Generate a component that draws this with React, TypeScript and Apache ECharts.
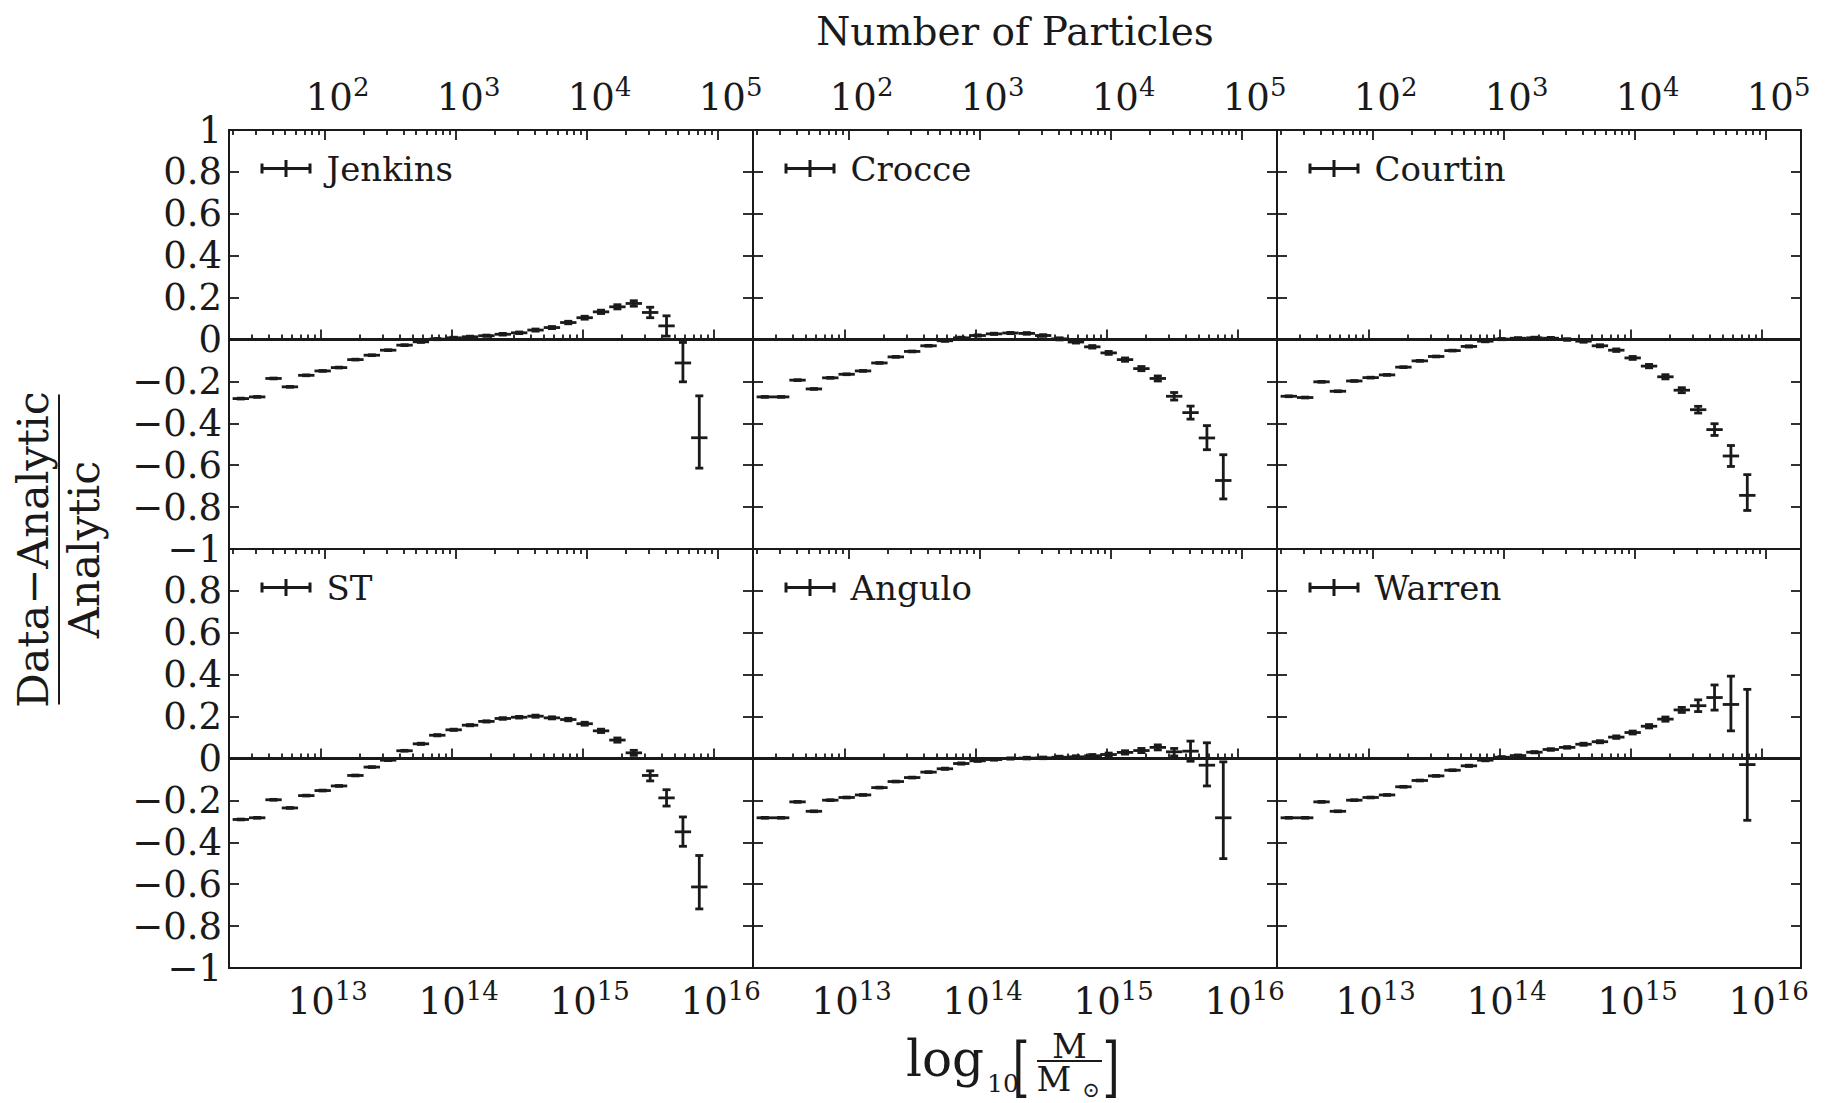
import React, { useEffect, useRef } from "react";
import * as echarts from "echarts";

const FONT = "DejaVu Serif";
const INK = "#1a1a1a";

// ---------- data ----------
const modelNames = ["Jenkins", "Crocce", "Courtin", "ST", "Angulo", "Warren"];

// log10(M) bin centres, bin half width in dex
const binCenters = [
  12.39, 12.515, 12.64, 12.765, 12.89, 13.015, 13.14, 13.265, 13.39, 13.515,
  13.64, 13.765, 13.89, 14.015, 14.14, 14.265, 14.39, 14.515, 14.64, 14.765,
  14.89, 15.015, 15.14, 15.265, 15.39, 15.515, 15.64, 15.765, 15.89,
];
const binHalfWidth = 0.0625;

const jenkinsValues = [
  -0.282, -0.274, -0.186, -0.226, -0.171, -0.15, -0.134, -0.096, -0.075, -0.051,
  -0.027, -0.011, 0.002, 0.008, 0.013, 0.018, 0.025, 0.032, 0.045, 0.057,
  0.081, 0.104, 0.132, 0.156, 0.172, 0.129, 0.065, -0.112, -0.469,
];
const jenkinsErrUp = [
  0.002, 0.002, 0.002, 0.002, 0.002, 0.002, 0.002, 0.002, 0.002, 0.002,
  0.002, 0.003, 0.003, 0.003, 0.003, 0.003, 0.004, 0.004, 0.005, 0.005,
  0.006, 0.007, 0.008, 0.01, 0.013, 0.025, 0.048, 0.098, 0.2,
];
const jenkinsErrDown = [
  0.002, 0.002, 0.002, 0.002, 0.002, 0.002, 0.002, 0.002, 0.002, 0.002,
  0.002, 0.003, 0.003, 0.003, 0.003, 0.003, 0.004, 0.004, 0.005, 0.005,
  0.006, 0.007, 0.008, 0.01, 0.013, 0.025, 0.049, 0.09, 0.145,
];

const crocceValues = [
  -0.274, -0.274, -0.194, -0.236, -0.183, -0.166, -0.15, -0.112, -0.083, -0.057,
  -0.03, -0.006, 0.008, 0.019, 0.027, 0.031, 0.029, 0.019, 0.003, -0.012,
  -0.035, -0.064, -0.096, -0.139, -0.186, -0.271, -0.349, -0.47, -0.673,
];
const crocceErrUp = [
  0.002, 0.002, 0.002, 0.002, 0.002, 0.002, 0.002, 0.002, 0.002, 0.002,
  0.002, 0.003, 0.003, 0.003, 0.003, 0.003, 0.004, 0.004, 0.005, 0.005,
  0.006, 0.007, 0.008, 0.01, 0.012, 0.018, 0.031, 0.059, 0.123,
];
const crocceErrDown = [
  0.002, 0.002, 0.002, 0.002, 0.002, 0.002, 0.002, 0.002, 0.002, 0.002,
  0.002, 0.003, 0.003, 0.003, 0.003, 0.003, 0.004, 0.004, 0.005, 0.005,
  0.006, 0.007, 0.008, 0.01, 0.012, 0.018, 0.031, 0.056, 0.088,
];

const courtinValues = [
  -0.271, -0.277, -0.202, -0.247, -0.198, -0.182, -0.169, -0.132, -0.102, -0.081,
  -0.053, -0.033, -0.008, 0.002, 0.006, 0.008, 0.006, 0.0, -0.008, -0.03,
  -0.051, -0.088, -0.127, -0.178, -0.242, -0.335, -0.43, -0.556, -0.744,
];
const courtinErrUp = [
  0.002, 0.002, 0.002, 0.002, 0.002, 0.002, 0.002, 0.002, 0.002, 0.002,
  0.002, 0.003, 0.003, 0.003, 0.003, 0.003, 0.004, 0.004, 0.005, 0.005,
  0.006, 0.007, 0.008, 0.01, 0.012, 0.016, 0.028, 0.05, 0.099,
];
const courtinErrDown = [
  0.002, 0.002, 0.002, 0.002, 0.002, 0.002, 0.002, 0.002, 0.002, 0.002,
  0.002, 0.003, 0.003, 0.003, 0.003, 0.003, 0.004, 0.004, 0.005, 0.005,
  0.006, 0.007, 0.008, 0.01, 0.012, 0.016, 0.028, 0.05, 0.072,
];

const stValues = [
  -0.291, -0.283, -0.197, -0.236, -0.177, -0.153, -0.131, -0.081, -0.041, -0.008,
  0.037, 0.07, 0.111, 0.137, 0.159, 0.177, 0.191, 0.197, 0.202, 0.194,
  0.186, 0.166, 0.132, 0.088, 0.027, -0.081, -0.188, -0.35, -0.613,
];
const stErrUp = [
  0.002, 0.002, 0.002, 0.002, 0.002, 0.002, 0.002, 0.002, 0.002, 0.002,
  0.002, 0.003, 0.003, 0.003, 0.003, 0.003, 0.004, 0.004, 0.005, 0.005,
  0.006, 0.007, 0.008, 0.01, 0.012, 0.022, 0.039, 0.071, 0.15,
];
const stErrDown = [
  0.002, 0.002, 0.002, 0.002, 0.002, 0.002, 0.002, 0.002, 0.002, 0.002,
  0.002, 0.003, 0.003, 0.003, 0.003, 0.003, 0.004, 0.004, 0.005, 0.005,
  0.006, 0.007, 0.008, 0.01, 0.012, 0.026, 0.039, 0.069, 0.105,
];

const anguloValues = [
  -0.283, -0.283, -0.207, -0.252, -0.199, -0.186, -0.174, -0.139, -0.11, -0.091,
  -0.065, -0.049, -0.024, -0.011, -0.005, 0.0, 0.002, 0.003, 0.006, 0.008,
  0.013, 0.019, 0.029, 0.038, 0.053, 0.032, 0.035, -0.032, -0.283,
];
const anguloErrUp = [
  0.002, 0.002, 0.002, 0.002, 0.002, 0.002, 0.002, 0.002, 0.002, 0.002,
  0.002, 0.003, 0.003, 0.003, 0.003, 0.003, 0.004, 0.004, 0.005, 0.005,
  0.006, 0.007, 0.008, 0.01, 0.012, 0.016, 0.048, 0.107, 0.267,
];
const anguloErrDown = [
  0.002, 0.002, 0.002, 0.002, 0.002, 0.002, 0.002, 0.002, 0.002, 0.002,
  0.002, 0.003, 0.003, 0.003, 0.003, 0.003, 0.004, 0.004, 0.005, 0.005,
  0.006, 0.007, 0.008, 0.01, 0.012, 0.02, 0.048, 0.099, 0.195,
];

const warrenValues = [
  -0.283, -0.283, -0.207, -0.252, -0.199, -0.186, -0.174, -0.135, -0.105, -0.083,
  -0.056, -0.035, -0.008, 0.006, 0.014, 0.03, 0.043, 0.053, 0.068, 0.08,
  0.102, 0.124, 0.154, 0.188, 0.232, 0.252, 0.291, 0.258, -0.029,
];
const warrenErrUp = [
  0.002, 0.002, 0.002, 0.002, 0.002, 0.002, 0.002, 0.002, 0.002, 0.002,
  0.002, 0.003, 0.003, 0.003, 0.003, 0.003, 0.004, 0.004, 0.005, 0.005,
  0.006, 0.007, 0.008, 0.01, 0.012, 0.028, 0.06, 0.135, 0.359,
];
const warrenErrDown = [
  0.002, 0.002, 0.002, 0.002, 0.002, 0.002, 0.002, 0.002, 0.002, 0.002,
  0.002, 0.003, 0.003, 0.003, 0.003, 0.003, 0.004, 0.004, 0.005, 0.005,
  0.006, 0.007, 0.008, 0.01, 0.012, 0.028, 0.06, 0.126, 0.266,
];

const panelValues = [jenkinsValues, crocceValues, courtinValues, stValues, anguloValues, warrenValues];
const panelErrUp = [jenkinsErrUp, crocceErrUp, courtinErrUp, stErrUp, anguloErrUp, warrenErrUp];
const panelErrDown = [jenkinsErrDown, crocceErrDown, courtinErrDown, stErrDown, anguloErrDown, warrenErrDown];

// axes
const massMin = 12.3;
const massMax = 16.3;
const logParticleMass = 11.03; // log10 of particle mass: N = M / m_p
const massMajorTicks = [13, 14, 15, 16];
const particleMajorTicks = [2, 3, 4, 5];
const yMin = -1;
const yMax = 1;
const yInterval = 0.2;

// ---------- layout ----------
const colLefts = [229, 753, 1277];
const colWidth = 524;
const rowTops = [130, 549];
const rowHeight = 419;

function minorTicks(lo: number, hi: number): number[] {
  const out: number[] = [];
  for (let d = Math.floor(lo); d <= Math.ceil(hi); d++) {
    for (let k = 2; k <= 9; k++) {
      const v = d + Math.log10(k);
      if (v > lo + 1e-6 && v < hi - 1e-6) out.push(v);
    }
  }
  return out;
}

const ERRBAR_ICON =
  "path://M0,7H51V10H0Z M0,3.5H3V13.5H0Z M48,3.5H51V13.5H48Z M24,0H27V17H24Z";

function fmtY(v: number): string {
  const r = Math.round(v * 10) / 10;
  if (Math.abs(r) < 1e-9) return "0";
  const s = String(Math.abs(r));
  return r < 0 ? "\u2212" + s : s;
}

const powRich = (shiftPad: number) => ({
  b: { fontFamily: FONT, fontSize: 37, lineHeight: 46, color: INK, padding: [0, 0, 0, shiftPad] },
  s: { fontFamily: FONT, fontSize: 26, lineHeight: 24, verticalAlign: "top", color: INK },
});
const fmtPow = (v: number) => `{b|10}{s|${Math.round(v)}}`;

function buildOption() {
  const grids: any[] = [];
  const xAxes: any[] = [];
  const yAxes: any[] = [];
  const series: any[] = [];
  const legends: any[] = [];
  const tickLine = { color: INK, width: 1.8 };

  const pMin = massMin - logParticleMass;
  const pMax = massMax - logParticleMass;
  const massMinor = minorTicks(massMin, massMax);
  const partMinor = minorTicks(pMin, pMax);

  for (let g = 0; g < 6; g++) {
    const r = Math.floor(g / 3);
    const c = g % 3;
    grids.push({
      left: colLefts[c],
      top: rowTops[r],
      width: colWidth,
      height: rowHeight,
      show: true,
      borderColor: INK,
      borderWidth: 2,
      backgroundColor: "transparent",
      containLabel: false,
      outerBoundsMode: "none",
    });
    const common = {
      type: "value",
      gridIndex: g,
      axisLine: { show: false },
      splitLine: { show: false },
      minorTick: { show: false },
    };
    // bottom major (data axis)
    xAxes.push({
      ...common,
      min: massMin,
      max: massMax,
      position: "bottom",
      axisTick: { show: true, inside: true, length: 10, lineStyle: tickLine, customValues: massMajorTicks },
      axisLabel: {
        show: r === 1,
        customValues: massMajorTicks,
        formatter: fmtPow,
        rich: powRich(14),
        margin: 10,
      },
    });
    // bottom minor
    xAxes.push({
      ...common,
      min: massMin,
      max: massMax,
      position: "bottom",
      axisTick: { show: true, inside: true, length: 5, lineStyle: tickLine, customValues: massMinor },
      axisLabel: { show: false },
    });
    // top major (number of particles)
    xAxes.push({
      ...common,
      min: pMin,
      max: pMax,
      position: "top",
      axisTick: { show: true, inside: true, length: 10, lineStyle: tickLine, customValues: particleMajorTicks },
      axisLabel: {
        show: r === 0,
        customValues: particleMajorTicks,
        formatter: fmtPow,
        rich: powRich(26),
        margin: 10,
      },
    });
    // top minor
    xAxes.push({
      ...common,
      min: pMin,
      max: pMax,
      position: "top",
      axisTick: { show: true, inside: true, length: 5, lineStyle: tickLine, customValues: partMinor },
      axisLabel: { show: false },
    });

    yAxes.push({
      ...common,
      min: yMin,
      max: yMax,
      interval: yInterval,
      position: "left",
      axisTick: { show: true, inside: true, length: 10, lineStyle: tickLine },
      axisLabel: {
        show: c === 0,
        showMaxLabel: r === 0,
        showMinLabel: true,
        formatter: fmtY,
        fontFamily: FONT,
        fontSize: 37,
        color: INK,
        margin: 7,
      },
    });
    yAxes.push({
      ...common,
      min: yMin,
      max: yMax,
      interval: yInterval,
      position: "right",
      axisTick: { show: true, inside: true, length: 10, lineStyle: tickLine },
      axisLabel: { show: false },
    });

    const vals = panelValues[g];
    const up = panelErrUp[g];
    const dn = panelErrDown[g];
    const name = modelNames[g];

    series.push({
      name: name + " zero",
      type: "line",
      xAxisIndex: g * 4,
      yAxisIndex: g * 2,
      data: [
        [massMin, 0],
        [massMax, 0],
      ],
      symbol: "none",
      silent: true,
      lineStyle: { color: INK, width: 3.2 },
      z: 2,
    });

    series.push({
      name,
      type: "custom",
      xAxisIndex: g * 4,
      yAxisIndex: g * 2,
      itemStyle: { color: INK },
      dimensions: ["mass", "ratio", "errUp", "errDown"],
      encode: { x: 0, y: 1 },
      data: binCenters.map((x, i) => [x, vals[i], up[i], dn[i]]),
      z: 3,
      silent: true,
      renderItem: (params: any, api: any) => {
        const x = api.value(0);
        const y = api.value(1);
        const eu = api.value(2);
        const ed = api.value(3);
        const pL = api.coord([x - binHalfWidth, y]);
        const pR = api.coord([x + binHalfWidth, y]);
        const pT = api.coord([x, y + eu]);
        const pB = api.coord([x, y - ed]);
        const style = { stroke: INK, lineWidth: 2.8, fill: null };
        const cap = 4;
        return {
          type: "group",
          children: [
            { type: "line", shape: { x1: pL[0], y1: pL[1], x2: pR[0], y2: pR[1] }, style },
            { type: "line", shape: { x1: pT[0], y1: pT[1], x2: pB[0], y2: pB[1] }, style },
            { type: "line", shape: { x1: pT[0] - cap, y1: pT[1], x2: pT[0] + cap, y2: pT[1] }, style },
            { type: "line", shape: { x1: pB[0] - cap, y1: pB[1], x2: pB[0] + cap, y2: pB[1] }, style },
          ],
        };
      },
    });

    legends.push({
      data: [{ name, icon: ERRBAR_ICON }],
      left: colLefts[c] + 31.5,
      top: rowTops[r] + 18.5,
      padding: 0,
      itemWidth: 51,
      itemHeight: 17,
      selectedMode: false,
      itemStyle: { color: INK, borderWidth: 0 },
      textStyle: {
        fontFamily: FONT,
        fontSize: 34,
        color: INK,
        lineHeight: 40,
        padding: [0, 0, 0, 10],
      },
    });
  }

  const txt = (text: string, x: number, y: number, size: number, align = "center", extra: any = {}) => ({
    type: "text",
    x,
    y,
    ...extra,
    style: {
      text,
      fontFamily: FONT,
      fontSize: size,
      fill: INK,
      align,
      verticalAlign: "middle",
      textAlign: align,
      textVerticalAlign: "middle",
    },
  });

  const graphic = [
    txt("Number of Particles", 1015, 31, 39),
    {
      type: "group",
      x: 59,
      y: 549.5,
      rotation: Math.PI / 2,
      children: [
        { type: "line", shape: { x1: -155, y1: 0, x2: 155, y2: 0 }, style: { stroke: INK, lineWidth: 2 } },
        txt("Data\u2212Analytic", 0, -26, 43),
        txt("Analytic", 0, 25, 43),
      ],
    },
    txt("log", 906, 1059, 50, "left"),
    txt("10", 987, 1083, 25, "left"),
    txt("[", 1021, 1066, 44, "center", { scaleY: 1.5 }),
    { type: "line", shape: { x1: 1037, y1: 1061, x2: 1102, y2: 1061 }, style: { stroke: INK, lineWidth: 2 } },
    txt("M", 1069.5, 1046, 34),
    txt("M", 1054, 1079, 34),
    txt("\u2299", 1091, 1090, 21),
    txt("]", 1111, 1066, 44, "center", { scaleY: 1.5 }),
  ];

  return {
    animation: false,
    backgroundColor: "#ffffff",
    grid: grids,
    xAxis: xAxes,
    yAxis: yAxes,
    legend: legends,
    series,
    graphic,
  };
}

export default function App() {
  const ref = useRef<HTMLDivElement>(null);
  useEffect(() => {
    document.body.style.margin = "0";
    const chart = echarts.init(ref.current as HTMLDivElement, null, {
      renderer: "svg",
      width: 1834,
      height: 1103,
    });
    chart.setOption(buildOption() as any);
    return () => chart.dispose();
  }, []);
  return <div ref={ref} style={{ width: 1834, height: 1103, background: "#ffffff" }} />;
}
